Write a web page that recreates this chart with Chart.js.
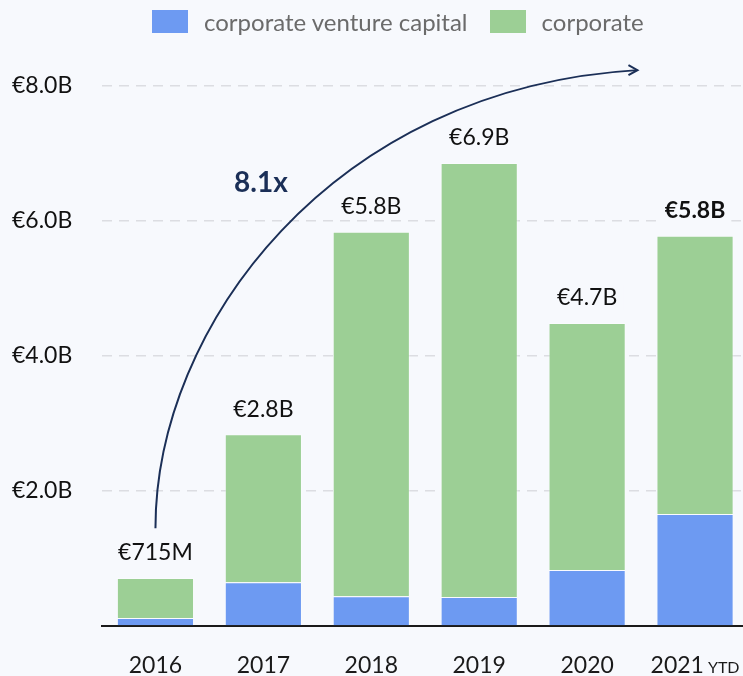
<!DOCTYPE html>
<html>
<head>
<meta charset="utf-8">
<script src="https://cdn.jsdelivr.net/npm/chart.js@4.4.0/dist/chart.umd.min.js"></script>
<style>
  html, body { margin: 0; padding: 0; background: #f7f9fd; overflow: hidden; }
  #wrap { position: relative; width: 750px; height: 676px; }
  #legend { position: absolute; top: 0; left: 152px; height: 42px; display: flex; align-items: center;
            font-family: Lato, sans-serif; font-size: 24px; color: #6b6b6b; }
  .sw { display: inline-block; width: 36px; height: 23px; margin-right: 16px; }
  .item { display: flex; align-items: center; margin-right: 22px; }
</style>
</head>
<body>
<div id="wrap">
  <canvas id="chart" width="750" height="676"></canvas>
  <div id="legend"></div>
</div>
<script>
// chart data (values in € billions)
const years = ['2016', '2017', '2018', '2019', '2020', '2021'];
const yearSuffix = ['', '', '', '', '', 'YTD'];
const cvcValues = [0.12, 0.65, 0.44, 0.43, 0.83, 1.66];
const corporateValues = [0.59, 2.19, 5.40, 6.43, 3.66, 4.12];
const totalLabels = ['€715M', '€2.8B', '€5.8B', '€6.9B', '€4.7B', '€5.8B'];
const yTicks = [0, 2, 4, 6, 8];
const growthLabel = '8.1x';

const BLUE = '#6d9af2';
const GREEN = '#9ccf95';
const NAVY = '#1b2f57';
const BG = '#f7f9fd';
const FONT = 'Lato, sans-serif';

// legend as html text
const legendEl = document.getElementById('legend');
[['corporate venture capital', BLUE], ['corporate', GREEN]].forEach(([name, col]) => {
    const it = document.createElement('span');
    it.className = 'item';
    it.innerHTML = '<span class="sw" style="background:' + col + '"></span>' + name;
    legendEl.appendChild(it);
});

// labels above bars, x labels, arrow annotation
const overlayPlugin = {
    id: 'overlay',
    afterDatasetsDraw(chart) {
        const ctx = chart.ctx;
        const x = chart.scales.x;
        const y = chart.scales.y;
        ctx.save();

        // totals above bars
        ctx.textAlign = 'center';
        ctx.textBaseline = 'middle';
        years.forEach((yr, i) => {
            const total = cvcValues[i] + corporateValues[i];
            const px = x.getPixelForValue(i);
            const py = y.getPixelForValue(total) - 25;
            const bold = i === years.length - 1;
            ctx.font = (bold ? 'bold ' : '') + '23px ' + FONT;
            const w = ctx.measureText(totalLabels[i]).width;
            ctx.fillStyle = BG;
            ctx.fillRect(px - w / 2 - 6, py - 13, w + 12, 26);
            ctx.fillStyle = '#111';
            ctx.fillText(totalLabels[i], px, py);
        });

        // category labels under axis
        const ly = chart.chartArea.bottom + 40;
        years.forEach((yr, i) => {
            const px = x.getPixelForValue(i);
            ctx.font = '23px ' + FONT;
            const w1 = ctx.measureText(yr).width;
            let w2 = 0;
            if (yearSuffix[i]) {
                ctx.font = '16px ' + FONT;
                w2 = ctx.measureText(yearSuffix[i]).width + 4;
            }
            const start = px - (w1 + w2) / 2;
            ctx.textAlign = 'left';
            ctx.fillStyle = '#1a1a1a';
            ctx.font = '23px ' + FONT;
            ctx.fillText(yr, start, ly);
            if (yearSuffix[i]) {
                ctx.font = '16px ' + FONT;
                ctx.fillText(yearSuffix[i], start + w1 + 4, ly + 2);
            }
        });

        // growth arrow
        const x0 = x.getPixelForValue(0), y0 = y.getPixelForValue(1.45);
        const x3 = x0 + 482, y3 = y0 - 458;
        ctx.strokeStyle = NAVY;
        ctx.lineWidth = 2;
        ctx.beginPath();
        ctx.moveTo(x0, y0);
        ctx.bezierCurveTo(x0, y0 - 200, x0 + 175, y0 - 440, x3, y3);
        ctx.stroke();
        // arrow head
        ctx.beginPath();
        ctx.moveTo(x3 - 9, y3 - 5);
        ctx.lineTo(x3, y3);
        ctx.lineTo(x3 - 9, y3 + 5);
        ctx.stroke();

        ctx.font = 'bold 28px ' + FONT;
        ctx.fillStyle = NAVY;
        ctx.textAlign = 'left';
        ctx.fillText(growthLabel, 234, 183);
        ctx.restore();
    }
};

new Chart(document.getElementById('chart'), {
    type: 'bar',
    data: {
        labels: years,
        datasets: [{
            label: 'corporate venture capital',
            data: cvcValues,
            backgroundColor: BLUE,
            borderColor: 'rgba(255,255,255,0.35)',
            borderWidth: 1,
            barPercentage: 0.715,
            categoryPercentage: 1
        }, {
            label: 'corporate',
            data: corporateValues,
            backgroundColor: GREEN,
            borderColor: 'rgba(255,255,255,0.35)',
            borderWidth: 1,
            barPercentage: 0.715,
            categoryPercentage: 1
        }]
    },
    options: {
        responsive: false,
        animation: false,
        layout: { padding: { left: 12, right: 1, top: 32, bottom: 0 } },
        plugins: {
            legend: { display: false },
            tooltip: { enabled: false }
        },
        scales: {
            x: {
                stacked: true,
                grid: { display: false },
                border: { color: '#1a1a1a', width: 2 },
                ticks: { display: false },
                afterFit(scale) { scale.height = 50; }
            },
            y: {
                stacked: true,
                min: 0,
                max: 8.8,
                afterBuildTicks(scale) {
                    scale.ticks = yTicks.map(v => ({ value: v }));
                },
                afterFit(scale) { scale.width = 89.5; },
                border: { display: false, dash: [10, 7] },
                grid: {
                    drawTicks: false,
                    color: c => c.tick && c.tick.value === 0 ? 'rgba(0,0,0,0)' : '#dcdde2',
                    lineWidth: 1.5
                },
                ticks: {
                    crossAlign: 'far',
                    padding: 0,
                    color: '#111',
                    font: { family: FONT, size: 23 },
                    callback: v => v === 0 ? '' : '€' + v.toFixed(1) + 'B'
                }
            }
        }
    },
    plugins: [overlayPlugin]
});
</script>
</body>
</html>
